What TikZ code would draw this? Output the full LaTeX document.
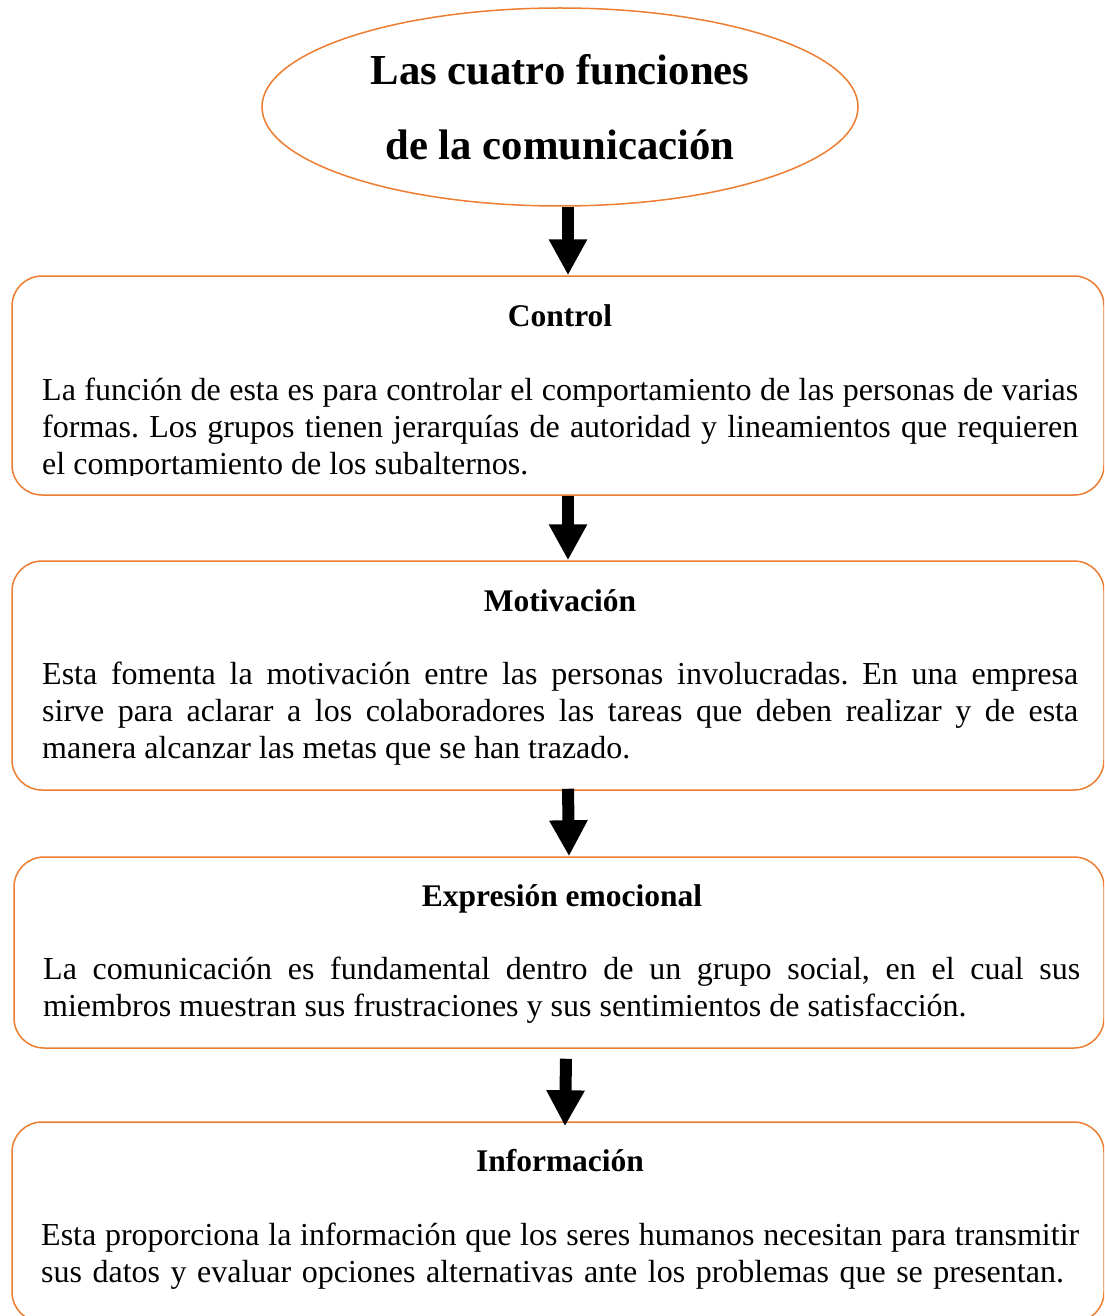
\documentclass[tikz,border=0pt]{standalone}
\usepackage{fontspec}
\setmainfont{Liberation Serif}
\usetikzlibrary{shapes.geometric,arrows.meta,positioning,calc}
\definecolor{boxorange}{RGB}{237,125,49}
\newcommand\infospacing{\hyphenpenalty=10000\relax\spaceskip=10.5pt plus 3pt minus 4pt\relax}
\tikzset{
    funcbox/.style={rectangle,draw=boxorange,line width=1.5pt,rounded corners=30pt,inner sep=0pt},
    bodytext/.style={anchor=base west,inner sep=0pt,text width=1036pt,align=justify,font=\fontsize{32}{37}\selectfont\frenchspacing},
}

\begin{document}
\begin{tikzpicture}[x=1pt,y=-1pt,
    heading/.style={anchor=base,inner sep=0pt,font=\fontsize{31.5}{37}\selectfont\bfseries},
    bigarrow/.style={-{Triangle[width=36pt,length=36pt]},line width=12pt}]
    \useasboundingbox (0,0) rectangle (1104,1316);
    \clip (0,0) rectangle (1104,1316);

    % title
    \node[ellipse,draw=boxorange,line width=1.5pt,minimum width=596pt,minimum height=198pt,inner sep=0pt,align=center,font=\fontsize{42.7}{75}\selectfont\bfseries]
        (title) at (560,107) {Las cuatro funciones\\de la comunicación};

    % the four boxes
    \node[funcbox,minimum width=1092pt,minimum height=219pt] (ctrl) at (558,385.5) {};
    \node[funcbox,minimum width=1092pt,minimum height=229pt] (motiv) at (558,675.5) {};
    \node[funcbox,minimum width=1090pt,minimum height=191pt] (expr) at (559,952.5) {};
    \node[funcbox,minimum width=1092pt,minimum height=200pt] (info) at (558,1222) {};

    % headings
    \node[heading] (ctrlhead) at (560,326) {Control};
    \node[heading] (motivhead) at (560,611) {Motivación};
    \node[heading] (exprhead) at (562,906) {Expresión emocional};
    \node[heading] (infohead) at (560,1171) {Información};

    % texts
    \begin{scope}
        \clip (0,276) rectangle (1104,475);
        \node[bodytext] (ctrltext) at (42,400) {La función de esta es para controlar el comportamiento de las personas de varias\linebreak formas. Los grupos tienen jerarquías de autoridad y lineamientos que requieren\linebreak el comportamiento de los subalternos.};
    \end{scope}
    \node[bodytext] (motivtext) at (42,684) {Esta fomenta la motivación entre las personas involucradas. En una empresa\linebreak sirve para aclarar a los colaboradores las tareas que deben realizar y de esta\linebreak manera alcanzar las metas que se han trazado.};
    \node[bodytext,text width=1037pt] (exprtext) at (43,979) {La comunicación es fundamental dentro de un grupo social, en el cual sus\linebreak miembros muestran sus frustraciones y sus sentimientos de satisfacción.};
    \node[bodytext,text width=1038pt] (infotext) at (41,1245) {\infospacing Esta proporciona la información que los seres humanos necesitan para transmitir\linebreak sus datos y evaluar opciones alternativas ante los problemas que se presentan.};

    % arrows
    \draw[bigarrow] ([xshift=8pt]title.south) -- ([xshift=10pt]ctrl.north);
    \draw[bigarrow] ([xshift=10pt]ctrl.south) -- ([xshift=10pt]motiv.north);
    \draw[bigarrow] ([xshift=10pt,yshift=2pt]motiv.south) -- ([xshift=10pt]expr.north);
    \draw[bigarrow] ([xshift=7pt,yshift=-10pt]expr.south) -- ([xshift=7pt,yshift=-5pt]info.north);
\end{tikzpicture}
\end{document}
